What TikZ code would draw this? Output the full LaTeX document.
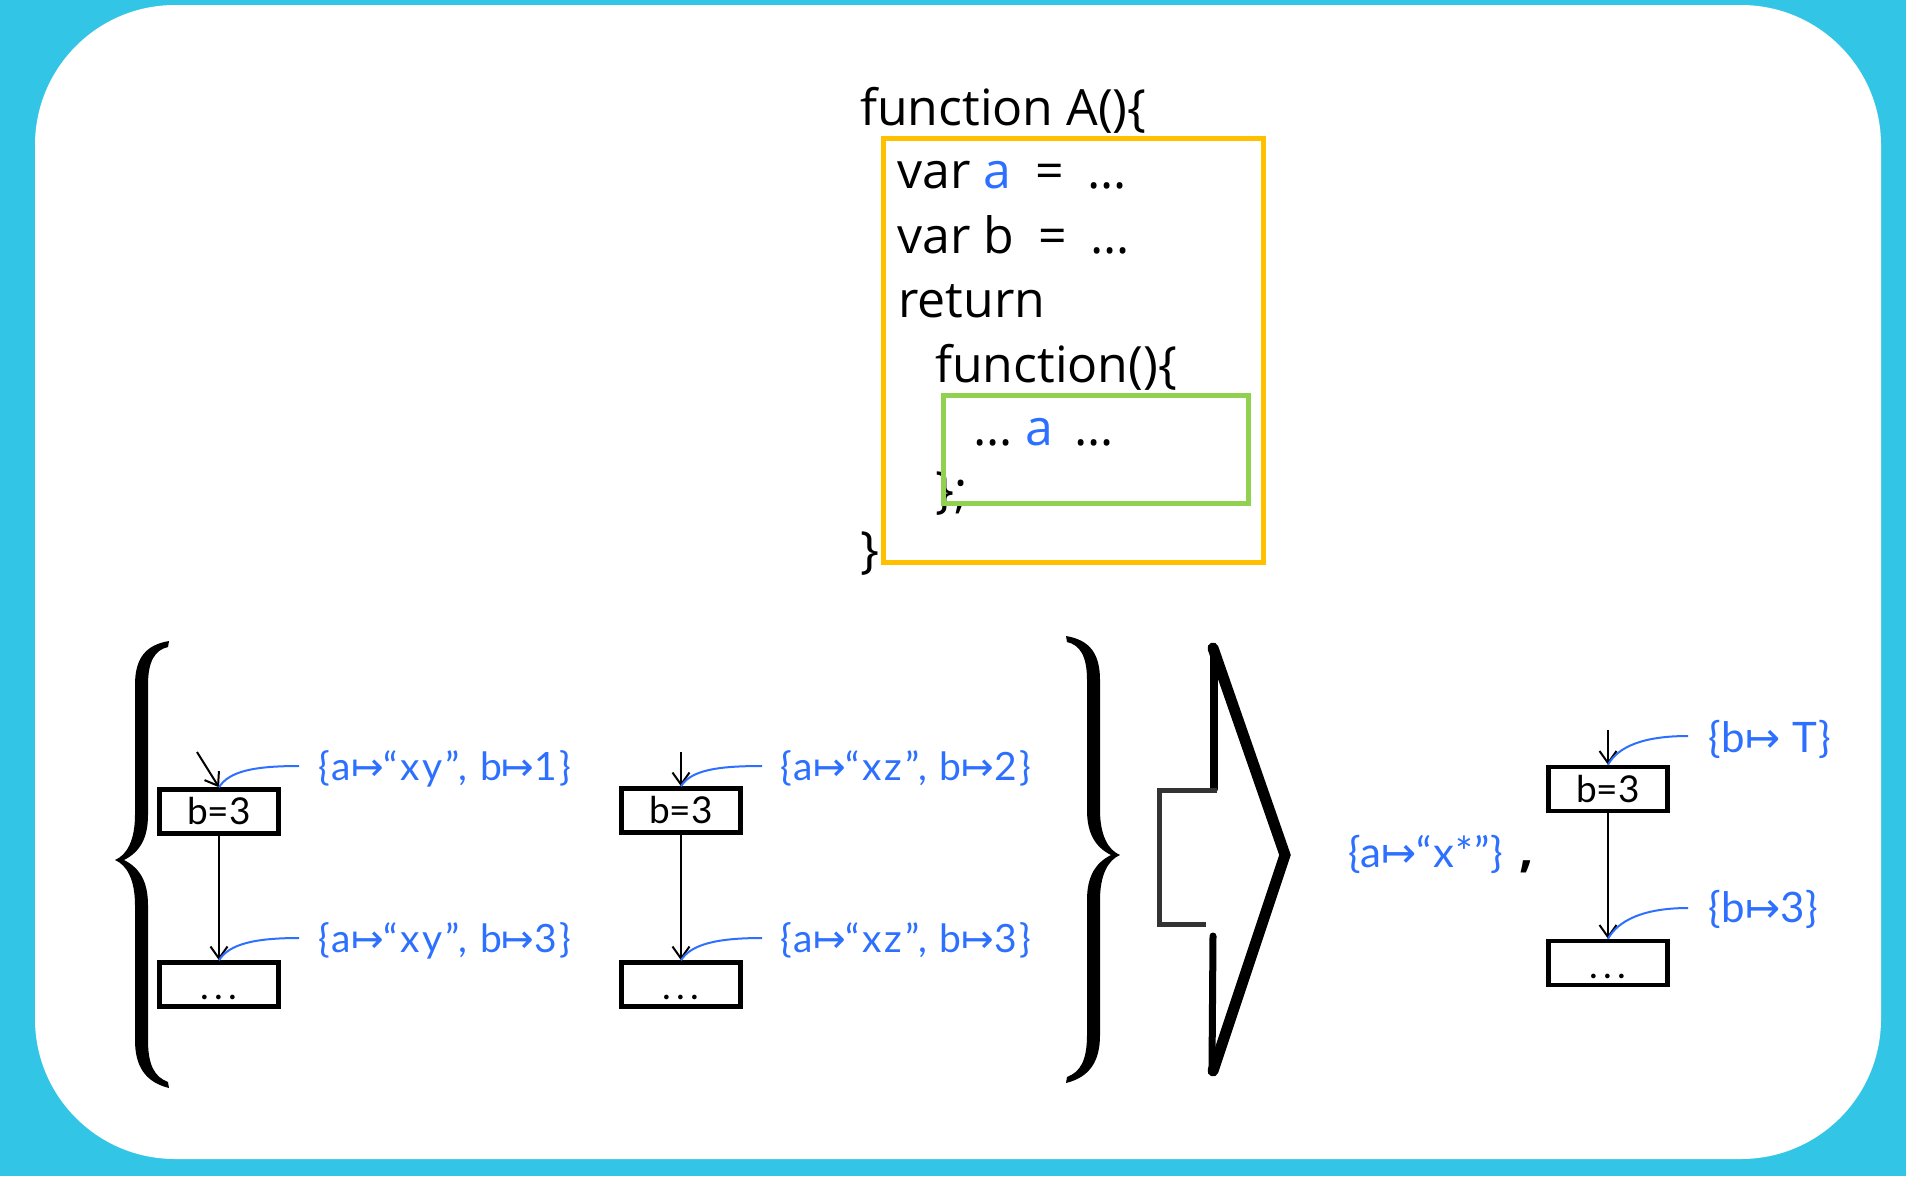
\documentclass[tikz,border=0pt]{standalone}
\usepackage{fontspec}
\usetikzlibrary{arrows.meta,calc}
\newfontfamily\codefont{Open Sans}
\newfontfamily\labfont[LetterSpace=7]{Lato}
\newfontfamily\labbigfont[LetterSpace=2.5]{Lato}
\newfontfamily\boxfont{Lato}
\newfontfamily\symfont{DejaVu Sans}
\newcommand{\mto}{{\symfont ↦}}
\newcommand{\gap}{\hspace{11pt}}
\definecolor{bgcyan}{RGB}{51,197,230}
\definecolor{envblue}{RGB}{45,112,255}
\definecolor{scopeorange}{RGB}{255,192,0}
\definecolor{scopegreen}{RGB}{146,208,80}
\tikzset{
  pics/curly/.style={code={
    \fill (-51,-219) .. controls (-27,-215) and (-17,-201) .. (-17,-175)
      -- (-17,-45) .. controls (-17,-20) and (-9,-5) .. (3,0)
      .. controls (-9,5) and (-17,20) .. (-17,45)
      -- (-17,180) .. controls (-17,206) and (-27,222) .. (-51,228)
      -- (-50,222) .. controls (-37,217) and (-30,206) .. (-30,180)
      -- (-30,45) .. controls (-30,22) and (-22,8) .. (-6,0)
      .. controls (-22,-8) and (-30,-22) .. (-30,-45)
      -- (-30,-175) .. controls (-30,-199) and (-37,-210) .. (-50,-213) -- cycle;
  }},
  codeline/.style={anchor=base west, inner sep=0pt, font=\codefont\fontsize{50}{60}\selectfont},
  envlab/.style={anchor=base west, inner sep=0pt, text=envblue, font=\labfont\fontsize{39}{42}\selectfont},
  envbig/.style={envlab, font=\labbigfont\fontsize{42}{48}\selectfont},
  cfgbox/.style={draw, line width=4.5pt, minimum width=119pt, minimum height=44pt,
    inner sep=0pt, font=\boxfont\fontsize{37}{40}\selectfont},
  dotsbox/.style={cfgbox, text height=30pt, text depth=0pt},
  flow/.style={line width=2pt, -{Straight Barb[length=12pt,width=17pt,line width=2pt]}},
  hint/.style={envblue, line width=2pt},
}
\newcommand{\cfgdots}{.\kern5pt.\kern5pt.}
\begin{document}
\begin{tikzpicture}[x=1pt,y=-1pt]
  % frame
  \fill[bgcyan] (0,0) rectangle (1906,1176);
  \path[use as bounding box] (0,0) rectangle (1906,1176);
  \fill[white, rounded corners=140pt] (35,5) rectangle (1881,1159);

  % source code
  \node[codeline] (c1) at (860,125) {function A()\{};
  \node[codeline] (c2) at (897,188) {var {\color{envblue}a}\gap{} =\gap{} …};
  \node[codeline] (c3) at (897,253) {var b\gap{} =\gap{} …};
  \node[codeline] (c4) at (898,317) {return};
  \node[codeline] (c5) at (935,382) {function()\{};
  \node[codeline] (c6) at (973,445) {… {\color{envblue}a}\hspace{8pt} …};
  \node[codeline] (c7) at (935,507) {\};};
  \node[codeline] (c8) at (860,567) {\}};
  \draw[scopeorange, line width=5pt] (883,138) rectangle (1263,562);
  \draw[scopegreen, line width=5pt] (943,395) rectangle (1248,503);

  % set of abstract states
  \pic at (118,860) [xscale=-1] {curly};
  \pic at (1117,855) {curly};

  % first graph
  \node[cfgbox] (b1) at (219,811.5) {b=3};
  \node[dotsbox] (d1) at (219,984.5) {\cfgdots};
  \coordinate (in1) at (197,752);
  \draw[flow] (in1) -- (b1.north);
  \draw[flow] (b1.south) -- (d1.north);
  \node[envlab] (l1a) at (318,780) {\{a\mto“xy”, b\mto1\}};
  \node[envlab] (l1b) at (318,952) {\{a\mto“xy”, b\mto3\}};
  \draw[hint] ($(l1a.base west)+(-19,-14)$) .. controls +(-45,0) and +(10,-16) .. (b1.north);
  \draw[hint] ($(l1b.base west)+(-19,-14)$) .. controls +(-45,0) and +(10,-16) .. (d1.north);

  % second graph
  \node[cfgbox] (b2) at (681,810.5) {b=3};
  \node[dotsbox] (d2) at (681,984.5) {\cfgdots};
  \coordinate (in2) at (681,752);
  \draw[flow] (in2) -- (b2.north);
  \draw[flow] (b2.south) -- (d2.north);
  \node[envlab] (l2a) at (780,780) {\{a\mto“xz”, b\mto2\}};
  \node[envlab] (l2b) at (780,952) {\{a\mto“xz”, b\mto3\}};
  \draw[hint] ($(l2a.base west)+(-18,-14)$) .. controls +(-45,0) and +(10,-16) .. (b2.north);
  \draw[hint] ($(l2b.base west)+(-18,-14)$) .. controls +(-45,0) and +(10,-16) .. (d2.north);

  % hand-drawn block arrow
  \draw[line width=11pt, line join=miter, line cap=round] (1213,648) -- (1285,855) -- (1213,1071);
  \draw[line width=8pt, line cap=round] (1214,648) -- (1214,789);
  \draw[black!80, line width=5pt] (1217,790) -- (1159,790) -- (1159,924) -- (1206,924);
  \draw[line width=7pt, line cap=round] (1213,936) -- (1212,1068);

  % merged result
  \node[envbig] (env) at (1348,867) {\{a\mto“x*”\}};
  \node[codeline, font=\codefont\bfseries\fontsize{50}{56}\selectfont] (comma) at (1519,866) {,};
  \node[cfgbox] (b3) at (1608,789) {b=3};
  \node[dotsbox] (d3) at (1608,963) {\cfgdots};
  \coordinate (in3) at (1608,730);
  \draw[flow] (in3) -- (b3.north);
  \draw[flow] (b3.south) -- (d3.north);
  \node[envbig] (l3a) at (1708,752) {\{b\mto{} T\}};
  \node[envbig] (l3b) at (1708,922) {\{b\mto3\}};
  \draw[hint] ($(l3a.base west)+(-20,-16)$) .. controls +(-45,0) and +(10,-18) .. (b3.north);
  \draw[hint] ($(l3b.base west)+(-20,-14)$) .. controls +(-45,0) and +(10,-18) .. (d3.north);
\end{tikzpicture}
\end{document}
